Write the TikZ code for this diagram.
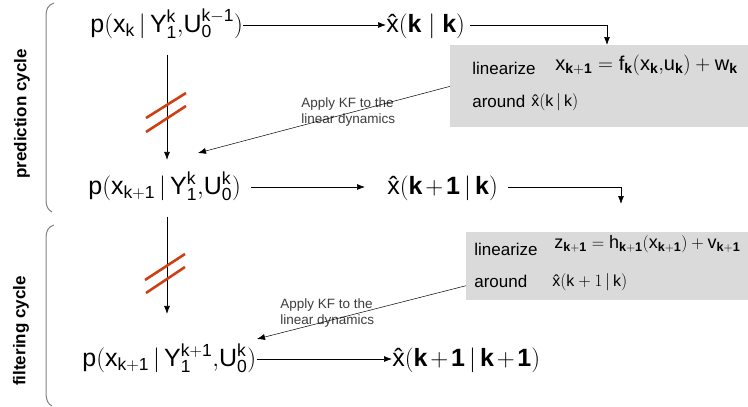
\documentclass[tikz,border=0pt]{standalone}
\usepackage{fontspec}
\setmainfont{Liberation Sans}
\usetikzlibrary{arrows.meta,calc,positioning}

\definecolor{boxgray}{RGB}{218,218,218}
\definecolor{slashred}{RGB}{204,64,20}
\definecolor{bracegray}{RGB}{130,130,130}
\definecolor{notegray}{RGB}{60,60,60}

\begin{document}
\begin{tikzpicture}[x=1pt,y=-1pt,>={Latex[length=8pt,width=6pt]},line width=0.7pt,
  dens node/.style={anchor=base west,inner sep=0pt,font=\fontsize{25}{29}\selectfont},
  lin box/.style={fill=boxgray,anchor=north west,inner sep=0pt},
  lin text/.style={anchor=base west,inner sep=0pt,font=\fontsize{17}{20}\selectfont},
  note/.style={anchor=north west,align=left,inner sep=0pt,text=notegray,font=\fontsize{13.5}{16}\selectfont},
  cycle label/.style={rotate=90,font=\fontsize{17}{20}\selectfont\bfseries},
  slash/.style={slashred,line width=2.6pt},
  brace/.style={bracegray,line width=1pt}]

  \useasboundingbox (0,0) rectangle (748,407);

  % cycle brackets and labels
  \draw[brace] (54,3) .. controls (48,5) and (46,9) .. (46,16) -- (46,200)
    .. controls (46,206) and (48,210) .. (52,212);
  \draw[brace] (54,225) .. controls (48,227) and (46,231) .. (46,238) -- (46,393)
    .. controls (46,400) and (48,404) .. (52,406);
  \node[cycle label] (predlabel) at (22,114) {prediction cycle};
  \node[cycle label] (filtlabel) at (21,331) {filtering cycle};

  % densities and estimates
  \node[dens node] (p1) at (90,32) {$\mathrm{p(x_k\,|\,Y_1^k{,}U_0^{k-1})}$};
  \node[dens node] (p2) at (88,194) {$\mathrm{p(x_{k+1}\,|\,Y_1^k{,}U_0^k)}$};
  \node[dens node] (p3) at (82,366) {$\mathrm{p(x_{k+1}\,|\,Y_1^{k+1}{,}U_0^k)}$};
  \node[dens node] (xh1) at (386,32) {$\mbox{\^{x}}(\mathbf{k}\;|\;\mathbf{k})$};
  \node[dens node] (xh2) at (387,194) {$\mbox{\^{x}}(\mathbf{k}\mkern2mu{+}\mkern2mu\mathbf{1}\,|\,\mathbf{k})$};
  \node[dens node] (xh3) at (392,366) {$\mbox{\^{x}}(\mathbf{k}\mkern2mu{+}\mkern2mu\mathbf{1}\,|\,\mathbf{k}\mkern2mu{+}\mkern2mu\mathbf{1})$};

  % linearization boxes
  \node[lin box,minimum width=298pt,minimum height=82pt] (box1) at (450,45) {};
  \node[lin text] (lin1) at ($(box1.north west)+(22,29)$) {linearize};
  \node[lin text,font=\fontsize{20}{23}\selectfont] (eq1) at ($(box1.north west)+(105,25)$)
    {$\mathrm{x_{\mathbf{k+1}}=f_{\mathbf{k}}(x_{\mathbf{k}}{,}u_{\mathbf{k}})+w_{\mathbf{k}}}$};
  \node[lin text] (ar1) at ($(box1.north west)+(22,62)$) {around};
  \node[lin text,font=\fontsize{16}{19}\selectfont] (at1) at ($(box1.north west)+(81,61)$) {$\mbox{\^{x}}(\mathrm{k}\,|\,\mathrm{k})$};

  \node[lin box,minimum width=282pt,minimum height=68pt] (box2) at (466,232) {};
  \node[lin text] (lin2) at ($(box2.north west)+(8,23)$) {linearize};
  \node[lin text,font=\fontsize{18}{21}\selectfont] (eq2) at ($(box2.north west)+(88,16)$)
    {$\mathrm{z_{\mathbf{k+1}}=h_{\mathbf{k+1}}(x_{\mathbf{k+1}})+v_{\mathbf{k+1}}}$};
  \node[lin text] (ar2) at ($(box2.north west)+(8,55)$) {around};
  \node[lin text,font=\fontsize{16}{19}\selectfont] (at2) at ($(box2.north west)+(86,54)$) {$\mbox{\^{x}}(\mathrm{k}+1\,|\,\mathrm{k})$};

  % notes
  \node[note] (kf1) at (301,97) {Apply KF to the\\linear dynamics};
  \node[note] (kf2) at (280,298) {Apply KF to the\\linear dynamics};

  \coordinate (cut1) at (167,112);
  \coordinate (cut2) at (167,273);
  \coordinate (tip1) at (198,153);
  \coordinate (tip2) at (257,339);
  \coordinate (in1) at (607,45);
  \coordinate (in2) at (621,204);
  \coordinate (out2) at ($(box2.south west)+(0,-15)$);

  \draw[->] ([yshift=7pt]p1.base east) -- ([yshift=7pt]xh1.base west);
  \draw[->,shorten >=22pt] ([yshift=7pt,xshift=10pt]p2.base east) -- ([yshift=7pt]xh2.base west);
  \draw[->] ([yshift=7pt]p3.base east) -- ([yshift=7pt]xh3.base west);
  \draw[->,shorten <=5pt] ([yshift=7pt]xh1.base east) -| (in1);
  \draw[->,shorten <=10pt] ([yshift=7pt]xh2.base east) -| (in2);

  \draw[->,shorten <=16pt,shorten >=12pt] (p1.south -| cut1) -- (p2.north -| cut1);
  \draw[->,shorten <=16pt,shorten >=30pt] (p2.south -| cut2) -- (p3.north -| cut2);
  \draw[slash] ($(cut1)+(-21,6)$) -- ($(cut1)+(19,-19)$);
  \draw[slash] ($(cut1)+(-21,20)$) -- ($(cut1)+(19,-6)$);
  \draw[slash] ($(cut2)+(-22,7)$) -- ($(cut2)+(18,-19)$);
  \draw[slash] ($(cut2)+(-21,20)$) -- ($(cut2)+(18,-6)$);

  \draw[->,line width=0.5pt] (box1.west) -- (tip1);
  \draw[->,line width=0.5pt] (out2) -- (tip2);
\end{tikzpicture}
\end{document}
